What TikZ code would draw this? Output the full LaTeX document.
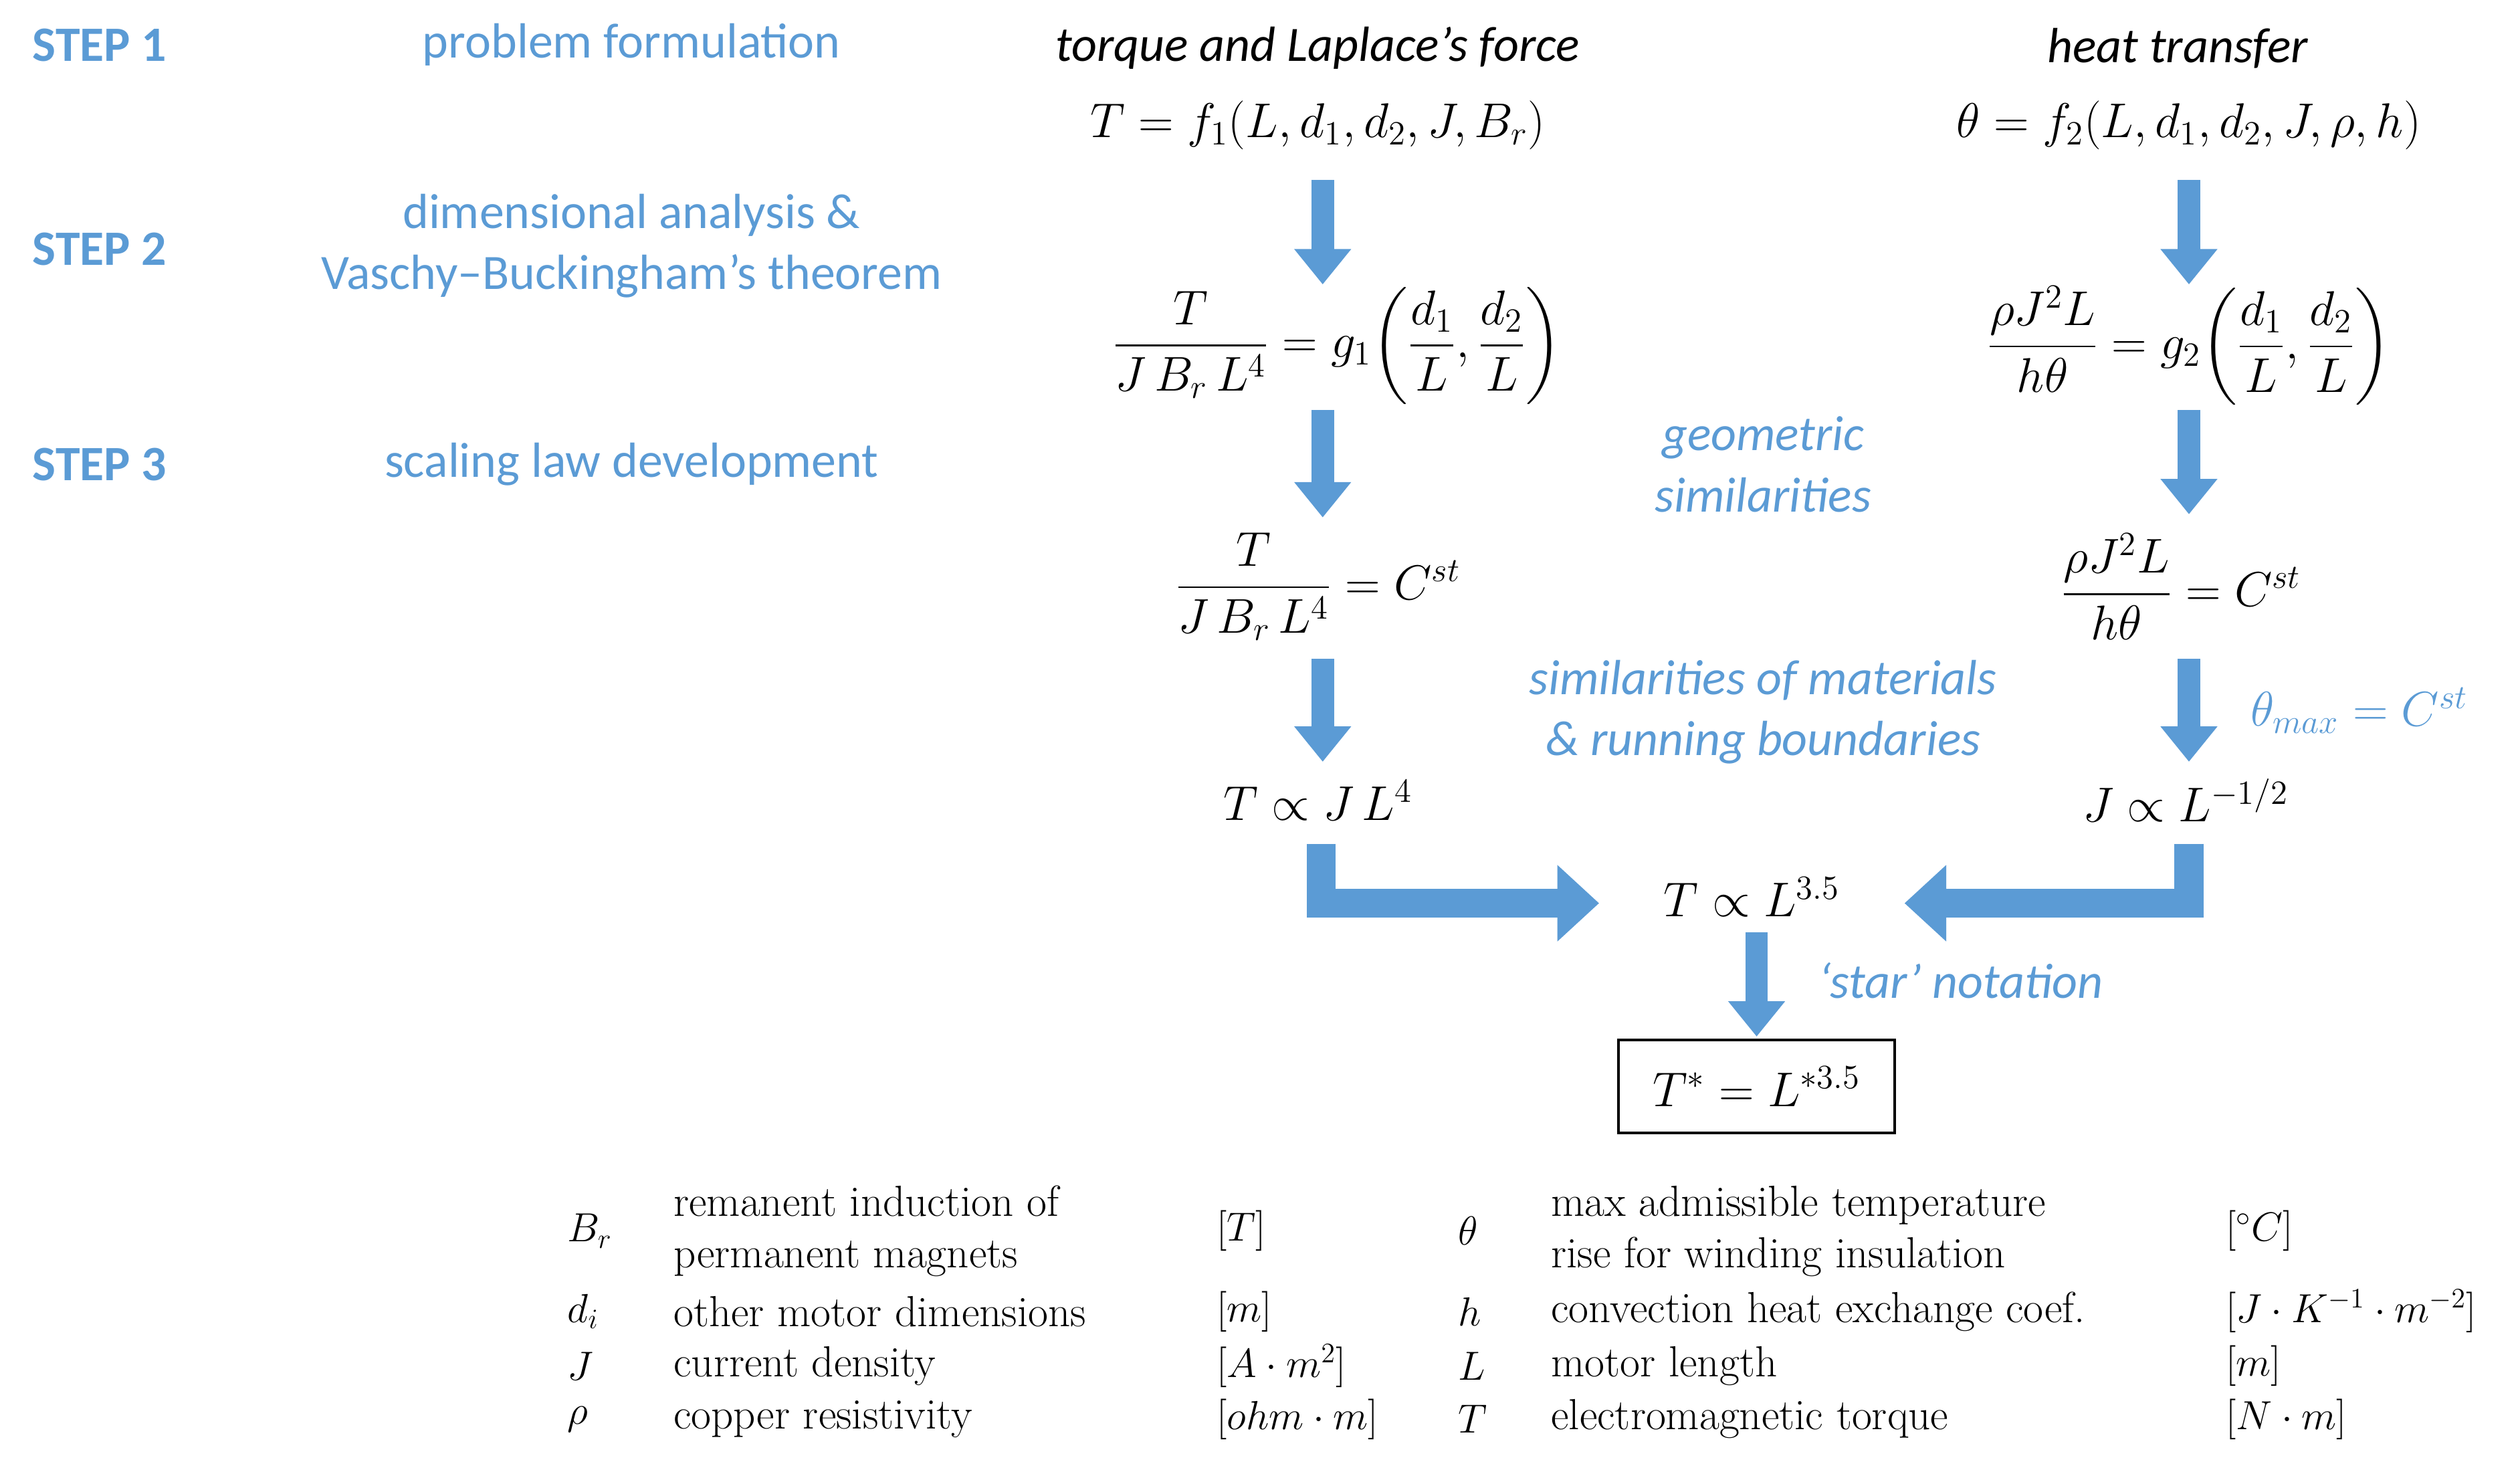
\documentclass[tikz,border=0pt]{standalone}
\usepackage{fontspec}
\usepackage{amsmath}
\usetikzlibrary{arrows.meta}
\newfontfamily\carl{Carlito}
\definecolor{bl}{HTML}{5B9BD5}
\begin{document}
\begin{tikzpicture}[x=0.024cm,y=-0.024cm,
  blt/.style={font=\carl\fontsize{21}{26}\selectfont,text=bl},
  bli/.style={font=\carl\itshape\fontsize{21}{26}\selectfont,text=bl},
  stp/.style={font=\carl\bfseries\fontsize{21}{26}\selectfont,text=bl},
  eq/.style={font=\fontsize{21}{25}\selectfont},
  lg/.style={font=\fontsize{18.5}{22}\selectfont,anchor=west,align=left},
  barrow/.style={bl,line width=14*0.024cm,-{Triangle[width=34*0.024cm,length=22*0.024cm]}},
  warrow/.style={bl,line width=18*0.024cm,-{Triangle[width=46*0.024cm,length=26*0.024cm]}}]
\useasboundingbox (0,0) rectangle (1568,917);
\node[stp] (s1) at (62,28) {STEP 1};
\node[stp] (s2) at (62,155) {STEP 2};
\node[stp] (s3) at (62,289) {STEP 3};
\node[blt] (p1) at (393,28) {problem formulation};
\node[blt,align=center] (p2) at (393,153) {dimensional analysis \&\\Vaschy–Buckingham’s theorem};
\node[blt] (p3) at (393,289) {scaling law development};
\node[font=\carl\itshape\fontsize{21}{26}\selectfont] (h1) at (820,30) {torque and Laplace’s force};
\node[font=\carl\itshape\fontsize{21}{26}\selectfont] (h2) at (1355,30) {heat transfer};
\node[eq] (e1) at (820,78) {$T=f_1(L,d_1,d_2,J,B_r)$};
\node[eq] (f1) at (1362,78) {$\theta=f_2(L,d_1,d_2,J,\rho,h)$};
\node[eq] (e2) at (832,215) {$\dfrac{T}{J\,B_r\,L^4}=g_1\!\left(\dfrac{d_1}{L},\dfrac{d_2}{L}\right)$};
\node[eq] (f2) at (1362,215) {$\dfrac{\rho J^2L}{h\theta}=g_2\!\left(\dfrac{d_1}{L},\dfrac{d_2}{L}\right)$};
\node[eq] (e3) at (820,365) {$\dfrac{T}{J\,B_r\,L^4}=C^{st}$};
\node[eq] (f3) at (1357,365) {$\dfrac{\rho J^2L}{h\theta}=C^{st}$};
\node[eq] (e4) at (820,498) {$T\propto J\,L^4$};
\node[eq] (f4) at (1360,498) {$J\propto L^{-1/2}$};
\node[eq] (c) at (1090,558) {$T\propto L^{3.5}$};
\node[eq,draw,line width=1.2pt,minimum width=172*0.024cm,minimum height=58*0.024cm] (r) at (1093,676) {$T^*=L^{*3.5}$};
\node[bli,align=center] (g) at (1097,289) {geometric\\similarities};
\node[bli,align=center] (m) at (1097,443) {similarities of materials\\\& running boundaries};
\node[bli,font=\fontsize{21}{25}\selectfont] (tm) at (1468,442) {$\theta_{max}=C^{st}$};
\node[bli] (st) at (1220,610) {‘star’ notation};
\coordinate (a1) at (823,112); \coordinate (a2) at (823,177);
\coordinate (a3) at (823,255); \coordinate (a4) at (823,322);
\coordinate (a5) at (823,410); \coordinate (a6) at (823,474);
\coordinate (b1) at (1362,112); \coordinate (b2) at (1362,177);
\coordinate (b3) at (1362,255); \coordinate (b4) at (1362,320);
\coordinate (b5) at (1362,410); \coordinate (b6) at (1362,474);
\coordinate (c1) at (1093,580); \coordinate (c2) at (1093,645);
\draw[barrow] (a1) -- (a2); \draw[barrow] (a3) -- (a4); \draw[barrow] (a5) -- (a6);
\draw[barrow] (b1) -- (b2); \draw[barrow] (b3) -- (b4); \draw[barrow] (b5) -- (b6);
\draw[barrow] (c1) -- (c2);
\coordinate (l1) at (822,525); \coordinate (l2) at (995,562);
\coordinate (q1) at (1362,525); \coordinate (q2) at (1185,562);
\draw[warrow] (l1) |- (l2);
\draw[warrow] (q1) |- (q2);
% legend
\node[lg] (k1) at (348,766) {$B_r$};
\node[lg] (k1d) at (414,766) {remanent induction of\\permanent magnets};
\node[lg] (k1u) at (752,766) {$[T]$};
\node[lg] (k2) at (348,816) {$d_i$};
\node[lg] (k2d) at (414,816) {other motor dimensions};
\node[lg] (k2u) at (752,816) {$[m]$};
\node[lg] (k3) at (348,850) {$J$};
\node[lg] (k3d) at (414,850) {current density};
\node[lg] (k3u) at (752,850) {$[A\cdot m^2]$};
\node[lg] (k4) at (348,883) {$\rho$};
\node[lg] (k4d) at (414,883) {copper resistivity};
\node[lg] (k4u) at (752,883) {$[ohm\cdot m]$};
\node[lg] (j1) at (902,766) {$\theta$};
\node[lg] (j1d) at (960,766) {max admissible temperature\\rise for winding insulation};
\node[lg] (j1u) at (1380,766) {$[^\circ C]$};
\node[lg] (j2) at (902,816) {$h$};
\node[lg] (j2d) at (960,816) {convection heat exchange coef.};
\node[lg] (j2u) at (1380,816) {$[J\cdot K^{-1}\cdot m^{-2}]$};
\node[lg] (j3) at (902,850) {$L$};
\node[lg] (j3d) at (960,850) {motor length};
\node[lg] (j3u) at (1380,850) {$[m]$};
\node[lg] (j4) at (902,883) {$T$};
\node[lg] (j4d) at (960,883) {electromagnetic torque};
\node[lg] (j4u) at (1380,883) {$[N\cdot m]$};
\end{tikzpicture}
\end{document}
